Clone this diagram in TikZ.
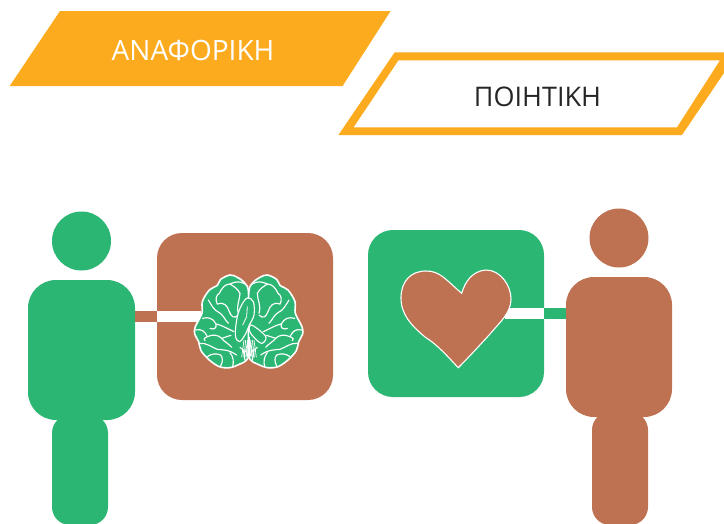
\documentclass[tikz,border=0pt]{standalone}
\usepackage{fontspec}
\setmainfont{Open Sans}
\usetikzlibrary{calc}
\definecolor{grn}{HTML}{2CB674}
\definecolor{brn}{HTML}{BE7252}
\definecolor{org}{HTML}{FCAB1E}
\tikzset{
  x=1pt,y=-1pt,
  solidbox/.style={rectangle,inner sep=0pt,outer sep=0pt,rounded corners=#1},
  head/.style={circle,inner sep=0pt,outer sep=0pt,minimum size=59pt},
  tag/.style={inner sep=0pt},
  link/.style={line width=11pt},
  sulcus/.style={draw=white,line width=1.15pt,line cap=round,line join=round},
  lobeedge/.style={draw=white,line width=1.6pt,fill=grn,line join=round},
  heartshape/.style={draw=white,line width=1.1pt,fill=brn,line join=miter}
}
\newcommand{\boxat}[7]{% name, x0,y0,x1,y1, radius, colour
  \node[solidbox=#6,fill=#7,minimum width=#4pt-#2pt,minimum height=#5pt-#3pt] (#1) at ({(#2+#4)/2},{(#3+#5)/2}) {};}
\newcommand{\hemisphere}{%
  \draw[lobeedge] plot[smooth cycle,tension=0.55] coordinates {
    (356,104)(345,70)(322,52)(300,45)(272,58)(262,76)(238,90)(217,125)(216,160)(196,200)(194,222)(206,245)(213,272)(238,300)(268,320)(300,323)(330,312)(350,300)(356,270)};
  \draw[sulcus] (345,72) .. controls (330,62) and (315,65) .. (300,72) .. controls (312,80) and (322,85) .. (330,100);
  \draw[sulcus] (300,72) .. controls (285,72) and (275,85) .. (268,100) .. controls (258,105) and (255,120) .. (262,132);
  \draw[sulcus] (262,132) .. controls (280,125) and (292,135) .. (298,155) .. controls (304,170) and (312,178) .. (325,165);
  \draw[sulcus] (330,100) .. controls (330,120) and (318,135) .. (325,160);
  \draw[sulcus] (235,120) .. controls (245,135) and (250,150) .. (268,158) .. controls (280,165) and (285,180) .. (295,190);
  \draw[sulcus] (218,175) .. controls (235,170) and (250,175) .. (258,192) .. controls (262,205) and (250,210) .. (240,205);
  \draw[sulcus] (258,192) .. controls (275,195) and (290,205) .. (312,215);
  \draw[sulcus] (197,210) .. controls (215,205) and (225,215) .. (232,230) .. controls (222,235) and (218,238) .. (225,242);
  \draw[sulcus] (232,230) .. controls (250,222) and (265,225) .. (275,235) .. controls (285,232) and (295,228) .. (303,226);
  \draw[sulcus] (275,235) .. controls (282,245) and (295,250) .. (305,262);
  \draw[sulcus] (210,250) .. controls (230,248) and (245,262) .. (262,268) .. controls (280,270) and (295,268) .. (320,285);
  \draw[sulcus] (232,290) .. controls (245,280) and (260,280) .. (272,285) .. controls (280,295) and (278,305) .. (272,318);
  \draw[sulcus] (300,278) .. controls (310,290) and (312,305) .. (308,320);
  \draw[sulcus] (345,300) -- (340,270) -- (330,262);
}
\begin{document}
\begin{tikzpicture}
\useasboundingbox (0,0) rectangle (724,523);
\clip (0,0) rectangle (724,523);
% tags
\path[fill=org] (60,11) -- (390.6,11) -- (342.6,86) -- (9.7,86) -- cycle;
\node[tag,text=white,font=\fontsize{28}{28}\selectfont] (anaf) at (193,50) {ΑΝΑΦΟΡΙΚΗ};
\path[fill=org,even odd rule] (394.7,52.3) -- (738,52.3) -- (682,135) -- (338.4,135) -- cycle
  (398.4,60.3) -- (720,60.3) -- (677,127.3) -- (353.6,127.3) -- cycle;
\node[tag,text=black!85,font=\fontsize{27}{27}\selectfont] (poi) at (537.5,97) {ΠΟΙΗΤΙΚΗ};
% persons and boxes
\node[head,fill=grn] (lhead) at (81.5,241) {};
\boxat{lleg}{52}{415}{108}{525}{18pt}{grn}
\boxat{lbody}{28}{280}{135}{420}{28pt}{grn}
\boxat{lbox}{157}{233}{333}{400}{25pt}{brn}
\node[head,fill=brn] (rhead) at (619,238) {};
\boxat{rleg}{592}{412}{648}{525}{18pt}{brn}
\boxat{rbody}{566}{277}{672}{417}{28pt}{brn}
\boxat{rbox}{368}{230}{544}{397}{25pt}{grn}
% connectors
\coordinate (brainedge) at (201,316);
\coordinate (heartedge) at (505,313);
\draw[link,draw=brn] (lbody.east |- brainedge) -- (lbox.west |- brainedge);
\draw[link,draw=white] (lbox.west |- brainedge) -- (brainedge);
\draw[link,draw=grn] (rbody.west |- heartedge) -- (rbox.east |- heartedge);
\draw[link,draw=white] (rbox.east |- heartedge) -- (heartedge);
% heart
\path[heartshape] (461.7,293.3) .. controls (465,282) and (472,271) .. (486,270)
  .. controls (500,270) and (511,285) .. (511,299)
  .. controls (511,313) and (500,322) .. (490,334)
  .. controls (480,345) and (468,358) .. (458.3,367.7)
  .. controls (448,357) and (438,345) .. (425,337)
  .. controls (412,326) and (401,315) .. (401,298)
  .. controls (401,282) and (410,271) .. (426,271)
  .. controls (440,271) and (445,279) .. cycle;
% brain
\begin{scope}[shift={(130,260)},x=0.3333pt,y=-0.3333pt]
  \hemisphere
\end{scope}
\begin{scope}[shift={(367.33,260)},x=-0.3333pt,y=-0.3333pt]
  \hemisphere
\end{scope}
\begin{scope}[shift={(130,260)},x=0.3333pt,y=-0.3333pt]
  % central lobes
  \draw[lobeedge,line width=1.1pt] plot[smooth cycle,tension=0.6] coordinates {(352,114)(370,125)(372,165)(358,195)(345,225)(328,245)(316,225)(322,170)(335,135)};
  \draw[lobeedge,line width=1.1pt] plot[smooth cycle,tension=0.6] coordinates {(362,195)(385,208)(408,232)(395,250)(372,232)(358,212)};
  \draw[sulcus,line width=0.8pt] (352,140) -- (350,170) -- (338,195);
  \foreach \a/\b in {342/335,347/342,352/350,357/358,362/366,367/373,372/379}{
    \draw[white,line width=0.7pt] (357,232) -- (\a,290);
    \draw[white,line width=0.7pt] (\a,240) -- (\b,292);
  }
\end{scope}
\end{tikzpicture}
\end{document}
